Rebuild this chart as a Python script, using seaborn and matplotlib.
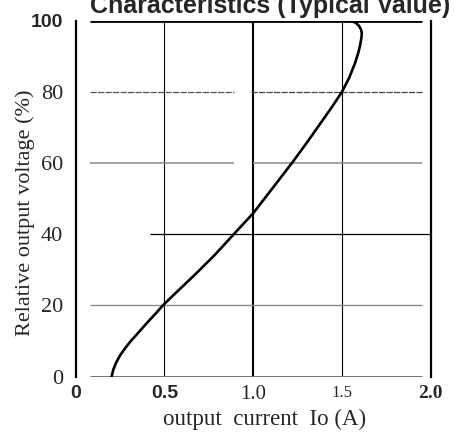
import matplotlib
matplotlib.use("Agg")
import matplotlib.pyplot as plt
import seaborn as sns
import pandas as pd

# Output current (A) versus relative output voltage (%) along the foldback curve
current = [0.203, 0.213, 0.229, 0.251, 0.279, 0.311, 0.356, 0.40, 0.447,
           0.495, 0.574, 0.671, 0.784, 0.896, 1.00, 1.11, 1.224, 1.306, 1.385,
           1.447, 1.500, 1.541, 1.573, 1.592, 1.602, 1.609, 1.612, 1.607, 1.595,
           1.578, 1.56, 1.54]
voltage = [0, 2, 4, 6, 8, 10, 12.5, 15, 17.5,
           20.2, 24, 28.6, 34.2, 40.3, 45.9, 53, 60.4, 66, 71.6,
           76, 80, 84, 88, 91, 93, 95, 96.5, 97.6, 98.6,
           99.4, 99.8, 100]

x_ticks = [0, 0.5, 1.0, 1.5, 2.0]
x_tick_labels = ["0", "0.5", "1.0", "1.5", "2.0"]
y_ticks = [0, 20, 40, 60, 80, 100]
y_tick_labels = ["0", "20", "40", "60", "80", "100"]

title = "Characteristics (Typical Value)"
x_label = "output  current  Io (A)"
y_label = "Relative output voltage (%)"

df = pd.DataFrame({"current": current, "voltage": voltage})

sns.set_style("white")
plt.rcParams["font.family"] = ["Liberation Serif", "DejaVu Serif"]

fig = plt.figure(figsize=(4.55, 4.37), dpi=100)
ax = fig.add_axes([0.166, 0.138, 0.7807, 0.8146])

# grid: vertical rules
ax.vlines([0.5, 1.5], 0, 100, colors="black", lw=0.8, zorder=1)
ax.vlines([1.0], 0, 100, colors="black", lw=1.5, zorder=1)

# grid: horizontal rules (drawn in segments like the printed sheet)
ax.hlines(80, 0.08, 0.89, colors="#555555", lw=0.9, linestyles=(0, (5, 1)), zorder=1)
ax.hlines(80, 0.99, 1.95, colors="#444444", lw=0.9, linestyles=(0, (5, 1)), zorder=1)
ax.hlines(60, 0.08, 0.89, colors="#8a8a8a", lw=1.1, zorder=1)
ax.hlines(60, 1.00, 1.95, colors="#8a8a8a", lw=1.1, zorder=1)
ax.hlines(40, 0.42, 2.0, colors="black", lw=0.9, zorder=1)
ax.hlines(20, 0.08, 1.95, colors="#8a8a8a", lw=1.0, zorder=1)
ax.hlines(100, 0.08, 1.95, colors="black", lw=2.0, zorder=1)
ax.hlines(0, 0.08, 1.95, colors="#666666", lw=2.0, zorder=1)

sns.lineplot(data=df, x="current", y="voltage", sort=False, estimator=None,
             color="black", lw=1.9, ax=ax, zorder=3,
             solid_joinstyle="round", solid_capstyle="round")

ax.set_xlim(0, 2.0)
ax.set_ylim(0, 100)

for side in ("top", "bottom"):
    ax.spines[side].set_visible(False)
for side in ("left", "right"):
    ax.spines[side].set_visible(True)
    ax.spines[side].set_color("black")
    ax.spines[side].set_linewidth(1.6)

ax.set_xticks(x_ticks, x_tick_labels)
ax.set_yticks(y_ticks, y_tick_labels)
ax.tick_params(axis="both", length=0)
ax.tick_params(axis="x", pad=6)
ax.tick_params(axis="y", pad=9)

sans_bold = dict(family="Liberation Sans", weight="bold", size=14)
x_styles = [
    sans_bold,
    sans_bold,
    dict(family="Liberation Serif", weight="normal", size=15),
    dict(family="Liberation Serif", weight="normal", size=12),
    dict(family="Liberation Serif", weight="bold", size=14),
]
for lab, st in zip(ax.get_xticklabels(), x_styles):
    lab.set_fontfamily(st["family"])
    lab.set_fontweight(st["weight"])
    lab.set_fontsize(st["size"])

for lab in ax.get_yticklabels():
    if lab.get_text() == "100":
        lab.set_fontfamily(sans_bold["family"])
        lab.set_fontweight("bold")
        lab.set_fontsize(14)
    else:
        lab.set_fontfamily("Liberation Serif")
        lab.set_fontsize(16)

ax.set_ylabel(y_label, fontsize=16, family="Liberation Serif")
ax.yaxis.label.set_va("center")
ax.yaxis.set_label_coords(-0.142, 0.46)

ax.set_xlabel(x_label, fontsize=16.5, family="Liberation Serif")
ax.xaxis.label.set_va("center")
ax.xaxis.set_label_coords(0.531, (376.7 - 419) / 356.0)

fig.text(270 / 455, 1 - 13 / 437, title, ha="center", va="baseline",
         family="Liberation Sans", weight="bold", size=18)

fig.savefig("out.png", dpi=100)
